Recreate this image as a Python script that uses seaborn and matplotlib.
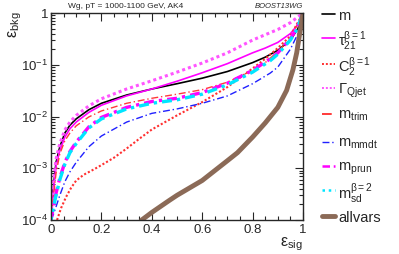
import numpy as np
import pandas as pd
import matplotlib
matplotlib.use("Agg")
import matplotlib.pyplot as plt
from matplotlib.lines import Line2D
import seaborn as sns

# ---- data ----
eff_m = [0.0, 0.005, 0.01, 0.02, 0.035, 0.055, 0.075, 0.1, 0.15, 0.2, 0.3, 0.4, 0.5, 0.6, 0.7, 0.8, 0.85, 0.9, 0.95, 0.98, 1.0]
bkg_m = [1e-4, 2.5e-4, 4.5e-4, 1.3e-3, 2.6e-3, 4.8e-3, 6.8e-3, 9e-3, 0.0135, 0.018, 0.026, 0.034, 0.043, 0.055, 0.074, 0.11, 0.14, 0.19, 0.3, 0.5, 1.0]

eff_tau = [0.0, 0.005, 0.01, 0.02, 0.035, 0.055, 0.075, 0.1, 0.15, 0.2, 0.3, 0.4, 0.5, 0.6, 0.7, 0.8, 0.85, 0.9, 0.95, 0.98, 1.0]
bkg_tau = [1e-4, 2.2e-4, 4e-4, 1.1e-3, 2.2e-3, 4e-3, 5.8e-3, 7.8e-3, 0.012, 0.0165, 0.025, 0.034, 0.048, 0.07, 0.105, 0.17, 0.21, 0.27, 0.4, 0.6, 1.0]

eff_c2 = [0.024, 0.04, 0.06, 0.08, 0.1, 0.13, 0.17, 0.2, 0.25, 0.3, 0.35, 0.4, 0.5, 0.6, 0.7, 0.8, 0.85, 0.9, 0.95, 1.0]
bkg_c2 = [1e-4, 1.7e-4, 2.8e-4, 4.2e-4, 5.8e-4, 7.5e-4, 9.5e-4, 1.15e-3, 1.6e-3, 2.4e-3, 3.7e-3, 5.6e-3, 0.0105, 0.019, 0.037, 0.085, 0.13, 0.21, 0.36, 1.0]

eff_qjet = [0.0, 0.005, 0.01, 0.02, 0.035, 0.055, 0.075, 0.1, 0.15, 0.2, 0.3, 0.4, 0.5, 0.6, 0.7, 0.8, 0.85, 0.9, 0.95, 1.0]
bkg_qjet = [1e-4, 2.8e-4, 5.5e-4, 1.5e-3, 3e-3, 5.5e-3, 7.8e-3, 0.0105, 0.016, 0.022, 0.034, 0.049, 0.072, 0.108, 0.17, 0.3, 0.38, 0.48, 0.65, 1.0]

eff_trim = [0.0, 0.01, 0.02, 0.035, 0.055, 0.075, 0.1, 0.15, 0.2, 0.3, 0.4, 0.5, 0.6, 0.7, 0.8, 0.85, 0.9, 0.95, 1.0]
bkg_trim = [1e-4, 3e-4, 8e-4, 1.9e-3, 3.4e-3, 4.8e-3, 6.6e-3, 9.8e-3, 0.0128, 0.018, 0.0225, 0.027, 0.033, 0.046, 0.078, 0.11, 0.18, 0.32, 1.0]

eff_mmdt = [0.0, 0.01, 0.02, 0.035, 0.055, 0.075, 0.1, 0.15, 0.2, 0.3, 0.4, 0.5, 0.6, 0.7, 0.8, 0.87, 0.9, 0.95, 0.98, 1.0]
bkg_mmdt = [1e-4, 1.3e-4, 1.8e-4, 3e-4, 5.5e-4, 8.5e-4, 1.3e-3, 2.6e-3, 4.2e-3, 7.8e-3, 0.0115, 0.014, 0.018, 0.025, 0.043, 0.069, 0.09, 0.2, 0.4, 1.0]

eff_prun = [0.0, 0.01, 0.02, 0.035, 0.055, 0.075, 0.1, 0.15, 0.2, 0.3, 0.4, 0.5, 0.6, 0.7, 0.8, 0.87, 0.9, 0.95, 0.975, 1.0]
bkg_prun = [1e-4, 1.9e-4, 3.3e-4, 6.5e-4, 1.3e-3, 2.1e-3, 3.2e-3, 6.3e-3, 9.6e-3, 0.015, 0.0195, 0.0225, 0.029, 0.044, 0.078, 0.13, 0.17, 0.32, 0.5, 1.0]

eff_sd = [0.0, 0.01, 0.02, 0.035, 0.055, 0.075, 0.1, 0.15, 0.2, 0.3, 0.4, 0.5, 0.6, 0.7, 0.8, 0.87, 0.9, 0.95, 0.975, 1.0]
bkg_sd = [1e-4, 1.8e-4, 3e-4, 6e-4, 1.2e-3, 2e-3, 3e-3, 6e-3, 9e-3, 0.014, 0.018, 0.021, 0.027, 0.041, 0.072, 0.12, 0.16, 0.3, 0.47, 1.0]

eff_all = [0.36, 0.4, 0.47, 0.5, 0.6, 0.7, 0.74, 0.8, 0.85, 0.9, 0.935, 0.96, 0.975, 0.99, 1.0]
bkg_all = [1e-4, 1.4e-4, 2.4e-4, 3e-4, 5.8e-4, 1.4e-3, 2e-3, 4e-3, 7.5e-3, 0.015, 0.032, 0.08, 0.17, 0.5, 1.0]

labels = ["m", r"$\tau_{21}^{\beta=1}$", r"$C_2^{\beta=1}$", r"$\Gamma_{Qjet}$",
          r"$m_{trim}$", r"$m_{mmdt}$", r"$m_{prun}$", r"$m_{sd}^{\beta=2}$", "allvars"]

x_ticks = [0, 0.2, 0.4, 0.6, 0.8, 1.0]
x_ticklabels = ["0", "0.2", "0.4", "0.6", "0.8", "1"]
y_ticks = [1e-4, 1e-3, 1e-2, 1e-1, 1]
y_ticklabels = [r"$10^{-4}$", r"$10^{-3}$", r"$10^{-2}$", r"$10^{-1}$", "1"]

# ---- styling ----
sns.set_style("ticks")
plt.rcParams["font.family"] = ["Liberation Sans", "DejaVu Sans"]
plt.rcParams["mathtext.fontset"] = "custom"
plt.rcParams["mathtext.rm"] = "Liberation Sans"
plt.rcParams["mathtext.it"] = "Liberation Sans"
plt.rcParams["mathtext.default"] = "regular"

series = [
    (eff_m, bkg_m, dict(color="black", lw=1.2, ls="-", llw=1.2)),
    (eff_tau, bkg_tau, dict(color="#ff00ff", lw=1.2, ls="-", llw=1.2)),
    (eff_c2, bkg_c2, dict(color="#ff3030", lw=1.5, ls=(0, (1, 1)), llw=1.4)),
    (eff_qjet, bkg_qjet, dict(color="#ff55ff", lw=2.2, ls=(0, (1, 1)), llw=1.4)),
    (eff_trim, bkg_trim, dict(color="#ff3a3a", lw=1.0, ls=(0, (5, 2, 1, 2)), llw=1.4)),
    (eff_mmdt, bkg_mmdt, dict(color="#2020ff", lw=1.0, ls=(0, (5, 2, 1, 2)), llw=1.0)),
    (eff_prun, bkg_prun, dict(color="#ff00ff", lw=2.4, ls=(0, (3, 1.5, 1, 1.5)), llw=1.8)),
    (eff_sd, bkg_sd, dict(color="#00e5ff", lw=2.4, ls=(2, (3, 1.5, 1, 1.5)), llw=1.8)),
    (eff_all, bkg_all, dict(color="#8b6a57", lw=3.5, ls="-", llw=3.5)),
]

fig = plt.figure(figsize=(3.99, 2.54), dpi=100)
ax = fig.add_axes([51 / 399, 1 - 220 / 254, 252 / 399, 207 / 254])

for (ex, by, st), lab in zip(series, labels):
    df = pd.DataFrame({"eff_sig": ex, "eff_bkg": by})
    sns.lineplot(data=df, x="eff_sig", y="eff_bkg", ax=ax, color=st["color"],
                 lw=st["lw"], linestyle=st["ls"], sort=True, legend=False)

ax.set_yscale("log")
ax.set_xlim(0, 1)
ax.set_ylim(1e-4, 1)
ax.set_xticks(x_ticks)
ax.set_xticklabels(x_ticklabels, fontsize=9.5)
ax.set_xticks(np.arange(0, 1.0001, 0.05), minor=True)
ax.set_yticks(y_ticks)
ax.set_yticklabels(y_ticklabels, fontsize=9.5)
ax.tick_params(which="both", direction="in", top=True, right=True, width=0.8)
ax.tick_params(which="major", length=6)
ax.tick_params(which="minor", length=3)
ax.tick_params(axis="x", pad=3)
ax.tick_params(axis="y", pad=2)
for s in ax.spines.values():
    s.set_linewidth(1.0)
ax.set_xlabel("")
ax.set_ylabel("")

fig.text(303 / 399, 1 - 246 / 254, r"$\varepsilon_{sig}$", ha="right", va="baseline", fontsize=11.5)
fig.text(6 / 399, 1 - 11 / 254, r"$\varepsilon_{bkg}$", ha="left", va="top", rotation=90, fontsize=11.5)

fig.text(68 / 399, 1 - 8 / 254, "Wg, pT = 1000-1100 GeV, AK4", ha="left", va="baseline", fontsize=6)
fig.text(303 / 399, 1 - 8 / 254, "BOOST13WG", ha="right", va="baseline", fontsize=5.5, style="italic")

# legend (manual rows)
leg_y = [14, 38, 64, 88, 114, 142, 166, 190, 216]
for (ex, by, st), lab, yy in zip(series, labels, leg_y):
    yf = 1 - yy / 254
    fig.add_artist(Line2D([322 / 399, 335 / 399], [yf, yf], transform=fig.transFigure,
                          color=st["color"], lw=st["llw"], linestyle=st["ls"]))
    fig.text(338 / 399, yf, lab, ha="left", va="center_baseline", fontsize=10.5)

fig.savefig("out.png", dpi=100)
